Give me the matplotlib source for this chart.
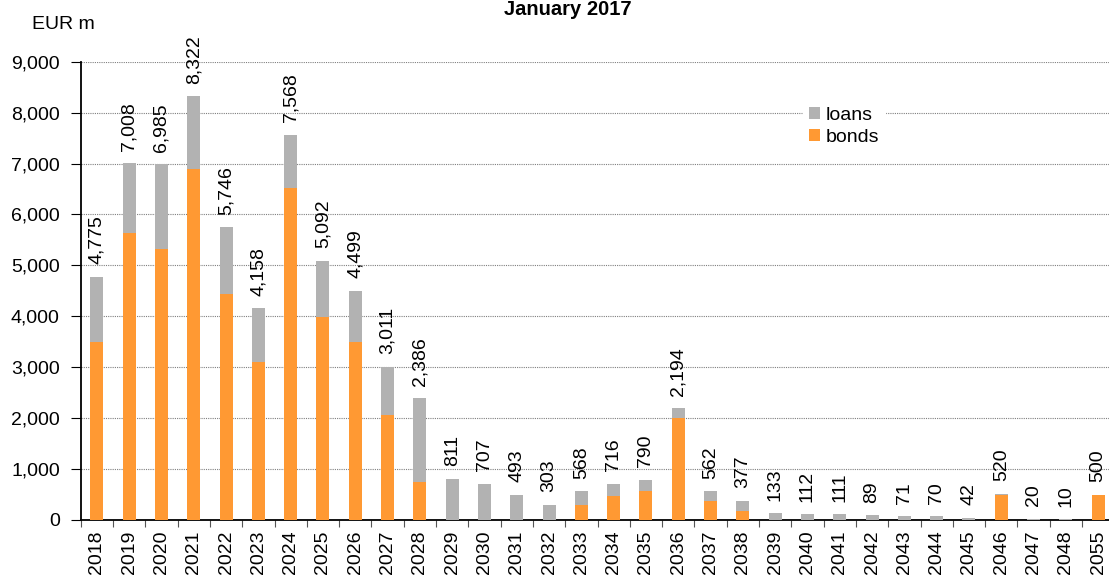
import numpy as np
import matplotlib
matplotlib.use("Agg")
import matplotlib.pyplot as plt
from matplotlib.ticker import FuncFormatter, FixedLocator
from matplotlib.patches import Patch

plt.rcParams['font.family'] = ['Liberation Sans', 'DejaVu Sans']

# Maturity profile, EUR m
years = ['2018', '2019', '2020', '2021', '2022', '2023', '2024', '2025', '2026', '2027',
         '2028', '2029', '2030', '2031', '2032', '2033', '2034', '2035', '2036', '2037',
         '2038', '2039', '2040', '2041', '2042', '2043', '2044', '2045', '2046', '2047',
         '2048', '2055']
totals = [4775, 7008, 6985, 8322, 5746, 4158, 7568, 5092, 4499, 3011,
          2386, 811, 707, 493, 303, 568, 716, 790, 2194, 562,
          377, 133, 112, 111, 89, 71, 70, 42, 520, 20,
          10, 500]
bonds = [3500, 5630, 5320, 6900, 4430, 3100, 6510, 3990, 3500, 2055,
         750, 0, 0, 0, 0, 290, 465, 575, 2000, 370,
         180, 0, 0, 0, 0, 0, 0, 0, 500, 0,
         0, 500]
loans = [t - b for t, b in zip(totals, bonds)]

ORANGE = '#FF9933'
GREY = '#B2B2B2'
FS = 14

W, H = 1109, 576
fig = plt.figure(figsize=(W / 100, H / 100), dpi=100)
left, right, top, bottom = 80.7, 1114.3, 61.7, 520.0
ax = fig.add_axes([left / W, 1 - bottom / H, (right - left) / W, (bottom - top) / H])

x = np.arange(len(years))
bw = 0.40
ax.bar(x, bonds, width=bw, color=ORANGE, zorder=3, label='bonds')
ax.bar(x, loans, width=bw, bottom=bonds, color=GREY, zorder=3, label='loans')

for xi, t in zip(x, totals):
    ax.annotate(f'{t:,}', xy=(xi, t), xytext=(0, 9), textcoords='offset points',
                rotation=90, ha='center', va='bottom', fontsize=FS, color='black')

ax.set_xlim(-0.5, len(years) - 0.5)
ax.set_ylim(0, 9000)
ax.set_yticks(np.arange(0, 9001, 1000))
ax.yaxis.set_major_formatter(FuncFormatter(lambda v, p: f'{int(v):,}'))
ax.tick_params(axis='y', length=7, width=0.8, pad=8, labelsize=FS, direction='out')
ax.yaxis.grid(True, linestyle=(0, (1, 1)), color='#7f7f7f', linewidth=0.8, zorder=0)
ax.set_axisbelow(True)

# category boundary ticks without labels, labels at category centres
ax.xaxis.set_major_locator(FixedLocator(np.arange(-0.5, len(years), 1.0)))
ax.xaxis.set_major_formatter(FuncFormatter(lambda v, p: ''))
ax.xaxis.set_minor_locator(FixedLocator(x))
ax.set_xticklabels(years, minor=True, rotation=90, fontsize=FS)
ax.tick_params(axis='x', which='major', length=5, width=0.8, color='#555555')
ax.tick_params(axis='x', which='minor', length=0, pad=7.5)

for s in ['top', 'right']:
    ax.spines[s].set_visible(False)
for s in ['left', 'bottom']:
    ax.spines[s].set_linewidth(1.3)
    ax.spines[s].set_color('black')

handles = [Patch(facecolor=GREY, label='loans'), Patch(facecolor=ORANGE, label='bonds')]
leg = fig.legend(handles=handles, loc='upper left', bbox_to_anchor=(803 / W, 1 - 101 / H),
                 frameon=True, fancybox=False, edgecolor='white', facecolor='white',
                 framealpha=1, fontsize=FS, handlelength=0.55, handleheight=0.55,
                 handletextpad=0.3, labelspacing=0.25, borderpad=0.3, borderaxespad=0)
leg.set_zorder(5)

fig.text(568 / W, 1 - 15 / H, 'January 2017', ha='center', va='baseline',
         fontsize=14.5, fontweight='bold')
fig.text(32 / W, 1 - 29 / H, 'EUR m', ha='left', va='baseline', fontsize=FS)

fig.savefig('out.png', dpi=100)
